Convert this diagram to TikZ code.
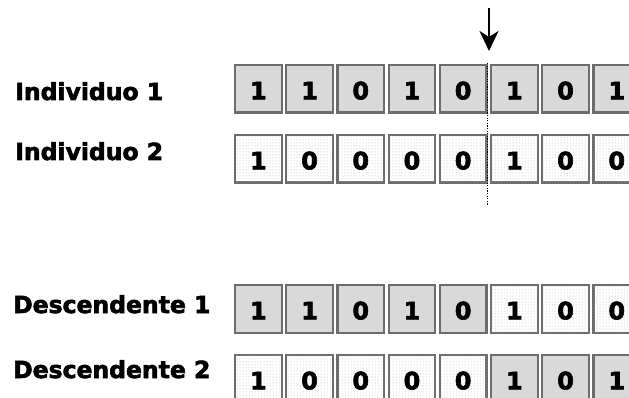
\documentclass[tikz,border=0pt]{standalone}
\usepackage{fontspec}
\setmainfont{DejaVu Sans}[BoldFeatures={FakeBold=2.5}]
\usetikzlibrary{patterns,arrows.meta}
\begin{document}
\begin{tikzpicture}[x=1pt,y=-1pt,
  lbl/.style={anchor=base west,inner sep=0pt,font=\bfseries\fontsize{23.5}{24}\selectfont},
  bitbox/.style={draw=gray!85!black,line width=2.2pt,minimum width=46.5pt,minimum height=47.5pt,
    inner sep=0pt,anchor=north west,text height=21pt,text depth=0pt,
    font=\bfseries\fontsize{24}{24}\selectfont},
  bitg/.style={bitbox,fill=gray!30},
  bitd/.style={bitbox,fill=white,postaction={pattern=dots,pattern color=gray!60}},
  cutline/.style={line width=1.8pt,dash pattern=on 1.3pt off 1.3pt},
  cutarrow/.style={line width=2.4pt,-{Stealth[length=20pt,width=19pt,inset=6pt]}}]
\useasboundingbox (0,0) rectangle (629,398);
\clip (0,0) rectangle (629,398);
% labels
\node[lbl] (l1) at (15,100) {Individuo 1};
\node[lbl] (l2) at (15,160) {Individuo 2};
\node[lbl] (l3) at (13,313) {Descendente 1};
\node[lbl] (l4) at (13,378) {Descendente 2};
% row 1
\foreach \b [count=\i from 0] in {1,1,0,1,0,1,0,1}
  \node[bitg] (a\i) at ({234+51.2*\i},64) {\b};
% row 2
\foreach \b [count=\i from 0] in {1,0,0,0,0,1,0,0}
  \node[bitd] (b\i) at ({234+51.2*\i},134) {\b};
% row 3
\foreach \b [count=\i from 0] in {1,1,0,1,0}
  \node[bitg] (c\i) at ({234+51.2*\i},284) {\b};
\foreach \b [count=\i from 5] in {1,0,0}
  \node[bitd] (c\i) at ({234+51.2*\i},284) {\b};
% row 4
\foreach \b [count=\i from 0] in {1,0,0,0,0}
  \node[bitd] (d\i) at ({234+51.2*\i},354) {\b};
\foreach \b [count=\i from 5] in {1,0,1}
  \node[bitg] (d\i) at ({234+51.2*\i},354) {\b};
% crossover point
\coordinate (cutS) at (487.5,63);
\coordinate (cutE) at (487.5,205);
\draw[cutline] (cutS) -- (cutE);
\coordinate (arrS) at (489,8);
\coordinate (arrE) at (489,51);
\draw[cutarrow] (arrS) -- (arrE);
\end{tikzpicture}
\end{document}
